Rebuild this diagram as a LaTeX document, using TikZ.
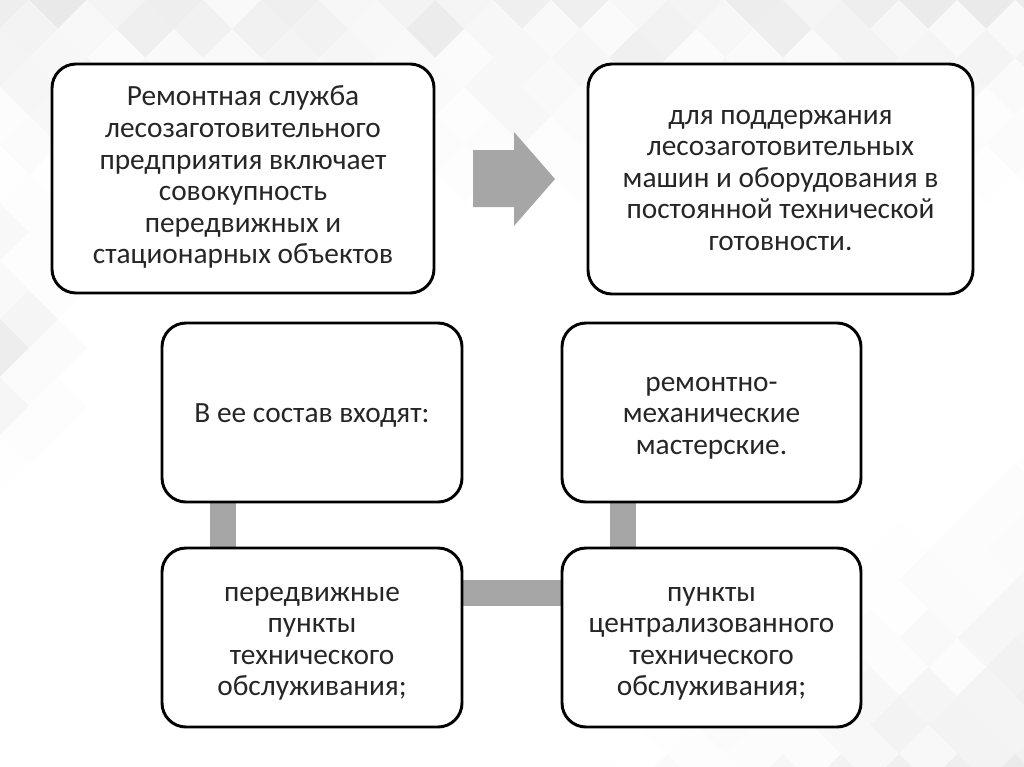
\documentclass[tikz,border=0pt]{standalone}
\usepackage{fontspec}
\setmainfont{Carlito}
\usetikzlibrary{calc}
\newcommand{\mylines}[2][0pt]{\raisebox{-#1}[\height][\depth]{\begin{tabular}{@{}c@{}}#2\end{tabular}}}
\begin{document}
\begin{tikzpicture}[x=0.75pt,y=-0.75pt,
  box/.style={draw=black, line width=2.2pt, fill=white, rounded corners=18pt,
    inner sep=0pt, font=\fontsize{22}{23.7}\selectfont, text=black!85},
  conn/.style={draw=black!35, line width=19.5pt},
  arrowshape/.style={fill=black!35, draw=none}]
\fill[white] (0,0) rectangle (1024,767);
\useasboundingbox (0,0) rectangle (1024,767);
% faint diamond tiles of the background
\pgfmathsetseed{11}
\begin{scope}
\clip (0,0) rectangle (1024,767);
\foreach \a in {0,...,27}{
  \foreach \b in {0,...,36}{
    \ifodd\numexpr\a+\b\relax\else
      \pgfmathsetmacro{\cx}{\b*29}
      \pgfmathsetmacro{\cy}{\a*29}
      \pgfmathsetmacro{\wa}{max(0,1-\cy/190)}
      \pgfmathsetmacro{\wb}{max(0,1-(1024-\cx)/420-(767-\cy)/330)}
      \pgfmathsetmacro{\wc}{max(0,1-\cx/90)*max(0,1-abs(\cy-330)/140)}
      \pgfmathsetmacro{\wt}{max(max(\wa,\wb),\wc)}
      \ifdim\wt pt>0.02pt
        \pgfmathsetmacro{\tone}{\wt*(2+7*rnd)}
        \fill[black!\tone] (\cx-29,\cy) -- (\cx,\cy-29) -- (\cx+29,\cy) -- (\cx,\cy+29) -- cycle;
      \fi
    \fi
  }
}
\end{scope}
\node[box, minimum width=286.5pt, minimum height=171.75pt] (A) at (243,178.5)
  {\mylines{Ремонтная служба\\лесозаготовительного\\предприятия включает\\совокупность\\передвижных и\\стационарных объектов}};
\node[box, minimum width=288.75pt, minimum height=172.5pt] (B) at (780.5,179)
  {\mylines[1.5pt]{для поддержания\\лесозаготовительных\\машин и оборудования в\\постоянной технической\\готовности.}};
\coordinate (C0) at (312,412.5);
\coordinate (E0) at (312,637.5);
\coordinate (D0) at (711.5,412.5);
\coordinate (F0) at (711.5,637.5);
% connectors (behind boxes)
\draw[conn] ($(C0)+(-89,80)$) -- ($(E0)+(-89,-80)$);
\draw[conn] ($(E0)+(140,-44.5)$) -- ($(F0)+(-140,-44.5)$);
\draw[conn] ($(D0)+(-89,80)$) -- ($(F0)+(-89,-80)$);
\node[box, minimum width=225pt, minimum height=134.25pt] (C) at (C0) {\mylines[2.5pt]{В ее состав входят:}};
\node[box, minimum width=224.25pt, minimum height=134.25pt] (D) at (D0) {\mylines[3pt]{ремонтно-\\механические\\мастерские.}};
\node[box, minimum width=225pt, minimum height=134.25pt] (E) at (E0) {\mylines[3.5pt]{передвижные\\пункты\\технического\\обслуживания;}};
\node[box, minimum width=224.25pt, minimum height=134.25pt] (F) at (F0) {\mylines[3.5pt]{пункты\\централизованного\\технического\\обслуживания;}};
% big arrow between A and B
\fill[arrowshape] (473,150) -- (514,150) -- (514,132) -- (555,179) -- (514,226) -- (514,207) -- (473,207) -- cycle;
\end{tikzpicture}
\end{document}
